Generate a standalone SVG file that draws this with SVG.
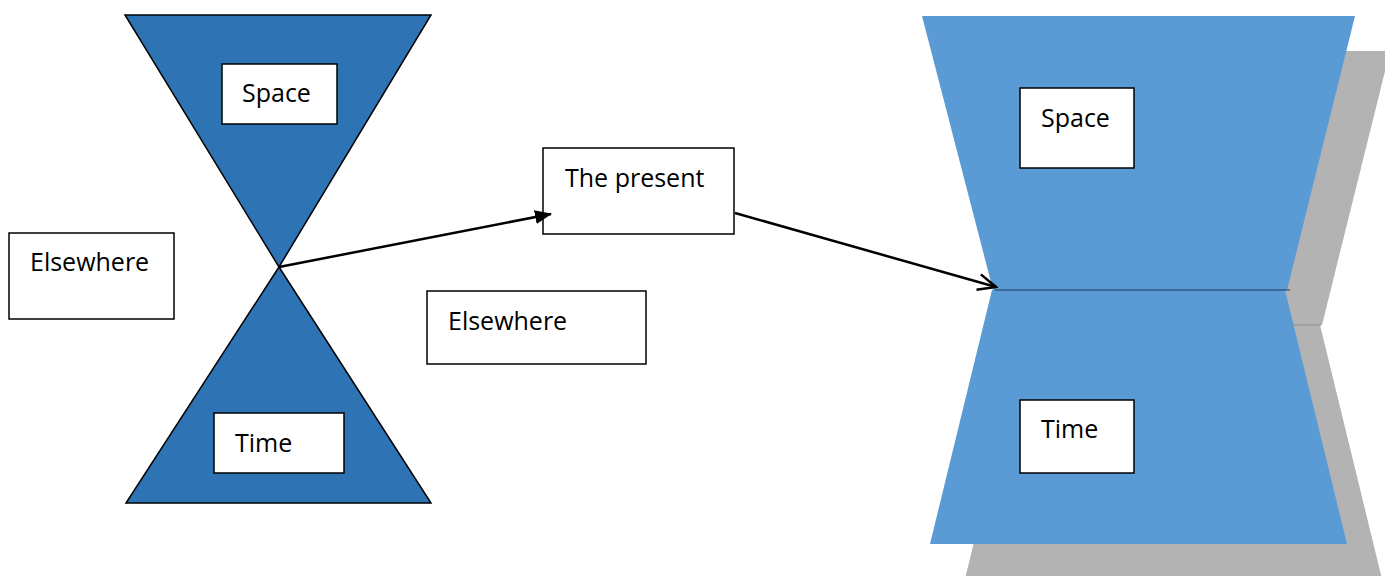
<svg xmlns="http://www.w3.org/2000/svg" width="1385" height="576" viewBox="0 0 1385 576">
<style>
.box{fill:#fff;stroke:#000;stroke-width:1.5}
.lbl{font-family:"Open Sans","Liberation Sans",sans-serif;font-size:25px;fill:#000}
.cone{fill:#2E74B5;stroke:#000;stroke-width:1.5;stroke-linejoin:miter}
.lt{fill:#5B9BD5}
.sh{fill:#B3B3B3}
.conn{stroke:#000;stroke-width:2.5;fill:none}
</style>
<defs>
<marker id="fill" markerWidth="18" markerHeight="14" refX="16" refY="7" orient="auto" markerUnits="userSpaceOnUse">
<path d="M0,0 L17,7 L0,14 z" fill="#000"/>
</marker>
<marker id="open" markerWidth="22" markerHeight="20" refX="20" refY="10" orient="auto" markerUnits="userSpaceOnUse">
<path d="M2,2 L20,10 L2,18" fill="none" stroke="#000" stroke-width="2.5"/>
</marker>
</defs>
<g id="cone-left">
<polygon class="cone" points="125,15 431,15 279,267"/>
<polygon class="cone" points="279,267 126,503 431,503"/>
</g>
<g id="cone-right">
<polygon class="sh" points="957,51 1390,51 1322,325 1028,325"/>
<polygon class="sh" points="1027,325 1320,325 1382,579 965,579"/>
<line x1="1285" y1="325" x2="1321" y2="325" stroke="#999" stroke-width="1.5"/>
<polygon class="lt" points="922,16 1355,16 1287,290 993,290"/>
<polygon class="lt" points="992,290 1285,290 1347,544 930,544"/>
<line x1="995" y1="290" x2="1290" y2="290" stroke="#1F3A5A" stroke-width="1.2"/>
</g>
<g id="space-left"><rect class="box" x="222" y="64" width="115" height="60"/><text class="lbl" x="242" y="102">Space</text></g>
<g id="time-left"><rect class="box" x="214" y="413" width="130" height="60"/><text class="lbl" x="235" y="452">Time</text></g>
<g id="elsewhere-left"><rect class="box" x="9" y="233" width="165" height="86"/><text class="lbl" x="30" y="271">Elsewhere</text></g>
<g id="elsewhere-mid"><rect class="box" x="427" y="291" width="219" height="73"/><text class="lbl" x="448" y="330">Elsewhere</text></g>
<g id="present"><rect class="box" x="543" y="148" width="191" height="86"/><text class="lbl" x="565" y="187">The present</text></g>
<g id="space-right"><rect class="box" x="1020" y="88" width="114" height="80"/><text class="lbl" x="1041" y="127">Space</text></g>
<g id="time-right"><rect class="box" x="1020" y="400" width="114" height="73"/><text class="lbl" x="1041" y="438">Time</text></g>
<g id="connectors">
<line class="conn" x1="279" y1="267" x2="551" y2="214" marker-end="url(#fill)"/>
<line class="conn" x1="735" y1="213" x2="996" y2="287" marker-end="url(#open)"/>
</g>
</svg>
